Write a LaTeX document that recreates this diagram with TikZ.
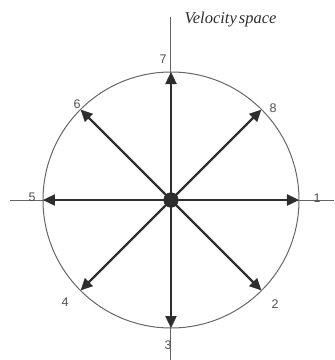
\documentclass[tikz,border=0pt]{standalone}
\usepackage{fontspec}
\setmainfont{Liberation Serif}
\setsansfont{Liberation Sans}
\usetikzlibrary{arrows.meta,calc}
\definecolor{axisgray}{HTML}{666666}
\definecolor{arrowdark}{HTML}{2E2E2E}
\definecolor{labelgray}{HTML}{505050}
\begin{document}
\begin{tikzpicture}[x=1pt,y=-1pt,
  axisline/.style={draw=axisgray,line width=1pt},
  vecarrow/.style={draw=arrowdark,line width=2.4pt,-{Triangle[length=12pt,width=11pt]}},
  numlabel/.style={font=\sffamily\fontsize{12.5}{14}\selectfont,text=labelgray,inner sep=0pt}]
\useasboundingbox (0,0) rectangle (335,360);
\coordinate (c) at (171,200);
\coordinate (vtop) at (171,17);
\coordinate (vbot) at (171,360);
\coordinate (hleft) at (10,200);
\coordinate (hright) at (334,200);
\draw[axisline] (vtop) -- (vbot);
\draw[axisline] (hleft) -- (hright);
\draw[axisline] (c) circle[radius=128];
\foreach \i/\a in {1/0,2/-45,3/-90,4/-135,5/180,6/135,7/90,8/45}{
  \coordinate (t\i) at ($(c)+(\a:128)$);
}
\node[circle,fill=arrowdark,minimum size=15pt,inner sep=0pt] (dot) at (c) {};
\foreach \i in {1,...,8}{
  \draw[vecarrow] (dot.center) -- (t\i);
}
\node[circle,fill=arrowdark,minimum size=15pt,inner sep=0pt] at (c) {};
\node[numlabel] (l1) at (317,198) {1};
\node[numlabel] (l2) at (275,304) {2};
\node[numlabel] (l3) at (168,345) {3};
\node[numlabel] (l4) at (65,302) {4};
\node[numlabel] (l5) at (32,197) {5};
\node[numlabel] (l6) at (77,104) {6};
\node[numlabel] (l7) at (163,59) {7};
\node[numlabel] (l8) at (273,108) {8};
\node[font=\itshape\fontsize{16.5}{18}\selectfont,text=arrowdark,inner sep=0pt] (title) at (230.5,20) {Velocity\hspace{0.12em}space};
\end{tikzpicture}
\end{document}
